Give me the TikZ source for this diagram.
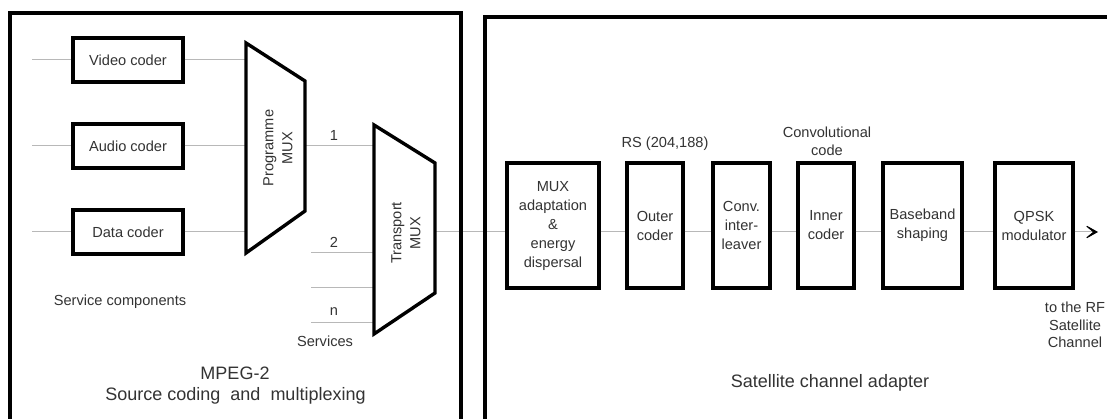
\documentclass[tikz,border=0pt]{standalone}
\usepackage{fontspec}
\setmainfont{Liberation Sans}
\usetikzlibrary{arrows.meta}
\definecolor{txt}{HTML}{333333}
\definecolor{wire}{HTML}{B8B8B8}
\newcommand\dgsmall{\fontsize{14.6}{19}\selectfont}
\newcommand\dgbig{\fontsize{18}{23}\selectfont}
\tikzset{
  blk/.style={draw=black, line width=3.4pt, inner sep=0pt, align=center, font=\dgsmall, text=txt},
  mux/.style={draw=black, line width=3.4pt, line join=miter},
  wire/.style={draw=wire, line width=1pt},
  frame/.style={draw=black, line width=4.2pt},
  lbl/.style={inner sep=0pt, align=center, font=\dgsmall, text=txt},
  biglbl/.style={inner sep=0pt, align=center, font=\dgbig, text=txt}
}
\begin{document}
\begin{tikzpicture}[x=1pt,y=-1pt]
\useasboundingbox (0,0) rectangle (1107,419);
\clip (0,0) rectangle (1107,419);
\fill[white] (0,0) rectangle (1107,419);

% coders
\node[blk, minimum width=110, minimum height=44] (video) at (128,60) {Video coder};
\node[blk, minimum width=110, minimum height=44] (audio) at (128,146) {Audio coder};
\node[blk, minimum width=110, minimum height=44] (data) at (128,232) {Data coder};

% input ends
\coordinate (vin) at (32,60);
\coordinate (ain) at (32,146);
\coordinate (din) at (32,232);

% programme mux
\coordinate (pm1) at (246,43);
\coordinate (pm2) at (305,81);
\coordinate (pm3) at (305,211);
\coordinate (pm4) at (246,253);
\coordinate (pmv) at (246,60);
\coordinate (pma) at (246,146);
\coordinate (pmd) at (246,232);
\coordinate (pmo) at (305,146);
\node[lbl, rotate=90] (pmux) at (278,148) {Programme\\MUX};

% transport mux
\coordinate (tm1) at (374,125);
\coordinate (tm2) at (435,163);
\coordinate (tm3) at (435,293);
\coordinate (tm4) at (374,334);
\coordinate (tm1in) at (374,146);
\coordinate (tm2in) at (374,253);
\coordinate (tm3in) at (374,288);
\coordinate (tmnin) at (374,322);
\coordinate (tmo) at (435,232);
\coordinate (s2) at (311,253);
\coordinate (s3) at (311,288);
\coordinate (sn) at (311,322);
\node[lbl, rotate=90] (tmux) at (406,233) {Transport\\MUX};

% channel adapter blocks
\node[blk, minimum width=92, minimum height=125] (adapt) at (553,225.5) {MUX\\adaptation\\\&\\energy\\dispersal};
\node[blk, minimum width=56, minimum height=125] (outer) at (655,225.5) {Outer\\coder};
\node[blk, minimum width=57, minimum height=125] (inter) at (741.5,225.5) {Conv.\\inter-\\leaver};
\node[blk, minimum width=56, minimum height=125] (inner) at (826,225.5) {Inner\\coder};
\node[blk, minimum width=79, minimum height=125] (base) at (922.5,225.5) {Baseband\\shaping};
\node[blk, minimum width=78, minimum height=125] (qpsk) at (1034,225.5) {QPSK\\modulator};
\coordinate (rf) at (1098,232);

% wires
\draw[wire] (vin) -- (video.west);
\draw[wire] (ain) -- (audio.west);
\draw[wire] (din) -- (data.west);
\draw[wire] (video.east) -- (pmv);
\draw[wire] (audio.east) -- (pma);
\draw[wire] (data.east) -- (pmd);
\draw[wire] (pmo) -- (tm1in);
\draw[wire] (s2) -- (tm2in);
\draw[wire] (s3) -- (tm3in);
\draw[wire] (sn) -- (tmnin);
\draw[wire] (tmo) -- (adapt.west |- tmo);
\draw[wire] (adapt.east |- tmo) -- (outer.west |- tmo);
\draw[wire] (outer.east |- tmo) -- (inter.west |- tmo);
\draw[wire] (inter.east |- tmo) -- (inner.west |- tmo);
\draw[wire] (inner.east |- tmo) -- (base.west |- tmo);
\draw[wire] (base.east |- tmo) -- (qpsk.west |- tmo);
\draw[wire, -{Stealth[black, length=16pt, width=18pt, inset=11pt]}] (qpsk.east |- rf) -- (rf);

% mux shapes
\draw[mux] (pm1) -- (pm2) -- (pm3) -- (pm4) -- cycle;
\draw[mux] (tm1) -- (tm2) -- (tm3) -- (tm4) -- cycle;

% labels
\node[lbl] (l1) at (334,135) {1};
\node[lbl] (l2) at (334,242) {2};
\node[lbl] (ln) at (334,312) {n};
\node[lbl] (serv) at (325,341) {Services};
\node[lbl] (comp) at (120,302) {Service components};
\node[biglbl] (mpeg) at (235,373) {MPEG-2};
\node[biglbl] (src) at (235.5,396) {Source coding\ \ and\ \ multiplexing};
\node[lbl] (rs) at (665,144) {RS (204,188)};
\node[lbl, font=\fontsize{14.6}{18}\selectfont] (conv) at (827,141) {Convolutional\\code};
\node[lbl, font=\fontsize{14.6}{17.5}\selectfont] (torf) at (1075,325) {to the RF\\Satellite\\Channel};
\node[biglbl] (sca) at (830,383) {Satellite channel adapter};

% frames
\draw[frame] (10,430) -- (10,13) -- (461,13) -- (461,430);
\draw[frame] (485,430) -- (485,17) -- (1120,17);
\end{tikzpicture}
\end{document}
